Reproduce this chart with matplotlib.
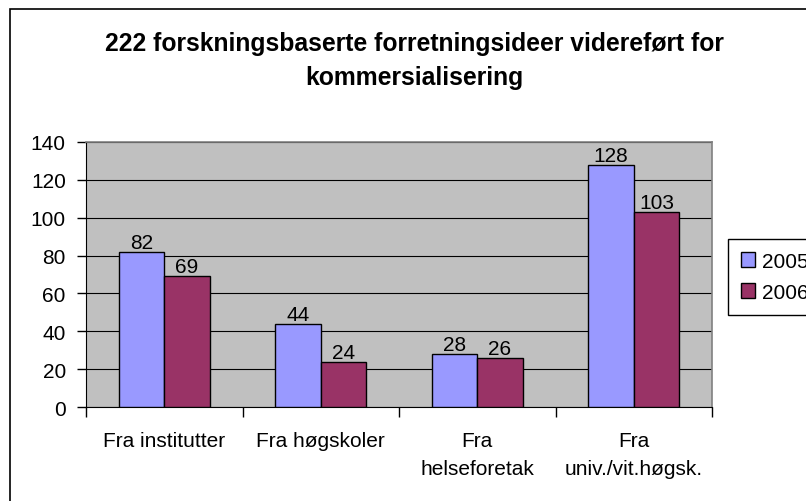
import matplotlib
matplotlib.use("Agg")
import matplotlib.pyplot as plt
from matplotlib.patches import Rectangle, Patch
import numpy as np

categories = ["Fra institutter", "Fra høgskoler", "Fra\nhelseforetak", "Fra\nuniv./vit.høgsk."]
years = ["2005", "2006"]
values_2005 = [82, 44, 28, 128]
values_2006 = [69, 24, 26, 103]
title = "222 forskningsbaserte forretningsideer videreført for\nkommersialisering"
yticks = [0, 20, 40, 60, 80, 100, 120, 140]

plt.rcParams['font.family'] = ['Liberation Sans', 'DejaVu Sans']

W, H = 806, 502
fig = plt.figure(figsize=(W / 100, H / 100), dpi=100)
fig.patch.set_facecolor('white')

# outer chart border
fig.patches.append(Rectangle((10 / W, -0.1), 1.2, 1 - 10 / H + 0.1, transform=fig.transFigure,
                             fill=False, edgecolor='black', linewidth=1.2, zorder=0))

ax = fig.add_axes([86 / W, 1 - 408 / H, (712 - 86) / W, (408 - 143) / H])
ax.set_facecolor('#C0C0C0')

x = np.arange(len(categories))
bw = 0.29
colors = ['#9999FF', '#993366']
b1 = ax.bar(x - bw / 2, values_2005, bw, color=colors[0], edgecolor='black', linewidth=1, zorder=3)
b2 = ax.bar(x + bw / 2, values_2006, bw, color=colors[1], edgecolor='black', linewidth=1, zorder=3)

for bars, vals in ((b1, values_2005), (b2, values_2006)):
    for r, v in zip(bars, vals):
        ax.text(r.get_x() + r.get_width() / 2, v, str(v), ha='center', va='bottom',
                fontsize=15, zorder=4)

ax.set_xlim(-0.5, len(categories) - 0.5)
ax.set_ylim(0, 140)
ax.set_yticks(yticks)
ax.set_yticklabels([str(t) for t in yticks], fontsize=15)
ax.yaxis.grid(True, color='black', linewidth=0.8, zorder=1)
ax.set_axisbelow(True)
ax.tick_params(axis='y', direction='out', length=6.5, width=1, pad=8)

ax.set_xticks(x)
ax.set_xticklabels(categories, fontsize=15, va='top', linespacing=1.65)
ax.tick_params(axis='x', which='major', length=0, pad=17)
ax.set_xticks(np.arange(len(categories) + 1) - 0.5, minor=True)
ax.tick_params(axis='x', which='minor', direction='out', length=7, width=1)

for s in ['top', 'right']:
    ax.spines[s].set_color('#808080')
    ax.spines[s].set_linewidth(1.2)
ax.spines['left'].set_color('black')
ax.spines['bottom'].set_color('black')

fig.text(414 / W, 1 - 61 / H, title, ha='center', va='center', fontsize=17.8,
         fontweight='bold', linespacing=1.5)

handles = [Patch(facecolor=colors[0], edgecolor='black'), Patch(facecolor=colors[1], edgecolor='black')]
fig.legend(handles, years, loc='upper left', bbox_to_anchor=(728 / W, 1 - 240 / H),
           frameon=True, fancybox=False, edgecolor='black', fontsize=15,
           handlelength=0.7, handleheight=0.7, handletextpad=0.35, borderpad=0.6,
           borderaxespad=0, labelspacing=0.6, framealpha=1)

fig.savefig('out.png', dpi=100)
